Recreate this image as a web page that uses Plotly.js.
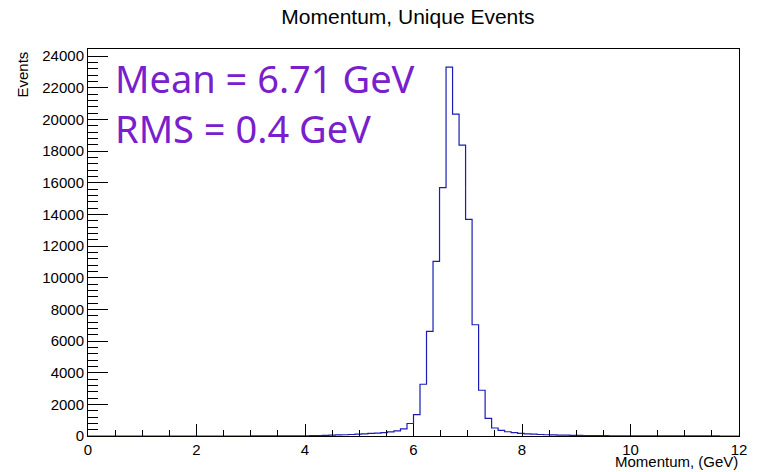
<!DOCTYPE html>
<html>
<head>
<meta charset="utf-8">
<script src="https://cdn.plot.ly/plotly-3.0.1.min.js"></script>
<style>html,body{margin:0;padding:0;background:#fff;}#chart{width:759px;height:472px;}</style>
</head>
<body>
<div id="chart"></div>
<script>
// Histogram definition: 100 bins from 0 to 12 GeV
const xMin = 0;
const xMax = 12;
const nBins = 100;
// Bin contents (events per bin)
const counts = [
  0,0,0,0,0,0,0,0,0,0,
  0,0,0,0,0,0,0,0,0,0,
  0,0,0,0,0,2,3,4,5,6,
  8,10,12,15,20,25,35,50,65,80,
  95,115,140,160,185,215,260,320,450,790,
  1350,3270,6610,11030,15690,23310,20340,18380,13690,7030,
  2890,1110,505,350,270,210,170,140,115,95,
  80,68,58,50,42,36,30,26,22,19,
  16,14,12,10,9,8,7,6,5,5,
  4,4,3,3,2,2,2,1,1,1
];
const titleText = "Momentum, Unique Events";
const xTitle = "Momentum, (GeV)";
const yTitle = "Events";
const statLines = ["Mean = 6.71 GeV", "RMS = 0.4 GeV"];

const binWidth = (xMax - xMin) / nBins;
const edges = [];
for (let i = 0; i <= nBins; i++) edges.push(xMin + i * binWidth);
const ys = counts.concat([counts[counts.length - 1]]);

const font = "Liberation Sans, Arial, Helvetica, sans-serif";

const trace = {
  type: "scatter",
  mode: "lines",
  x: edges,
  y: ys,
  line: {shape: "hv", color: "#1c1cb4", width: 1.2},
  hoverinfo: "skip"
};

const layout = {
  width: 759,
  height: 472,
  margin: {l: 88, r: 19.5, t: 49, b: 35.5},
  paper_bgcolor: "#ffffff",
  plot_bgcolor: "#ffffff",
  showlegend: false,
  font: {family: font, size: 16, color: "#000"},
  title: {
    text: titleText,
    font: {family: font, size: 21, color: "#000"},
    x: 0.5375, xref: "container", xanchor: "center",
    y: 0.964, yref: "container", yanchor: "middle"
  },
  xaxis: {
    range: [xMin, xMax],
    showgrid: false, zeroline: false,
    showline: true, mirror: true, linecolor: "#000", linewidth: 1,
    ticks: "inside", ticklen: 12, tickwidth: 1, tickcolor: "#000",
    tick0: 0, dtick: 2, tickformat: "d",
    minor: {ticks: "inside", ticklen: 6, tickwidth: 1, tickcolor: "#000", dtick: 0.5, showgrid: false},
    tickfont: {family: font, size: 15, color: "#000"}
  },
  yaxis: {
    range: [0, 24450],
    showgrid: false, zeroline: false,
    showline: true, mirror: true, linecolor: "#000", linewidth: 1,
    ticks: "inside", ticklen: 20, tickwidth: 1, tickcolor: "#000",
    tick0: 0, dtick: 2000, tickformat: "d",
    minor: {ticks: "inside", ticklen: 10, tickwidth: 1, tickcolor: "#000", dtick: 400, showgrid: false},
    tickfont: {family: font, size: 15, color: "#000"}
  },
  annotations: [
    {
      text: xTitle, xref: "paper", yref: "paper",
      x: 1, xanchor: "right", y: -0.0916, yanchor: "bottom", borderpad: 0,
      showarrow: false, font: {family: font, size: 15, color: "#000"}
    },
    {
      text: yTitle, xref: "paper", yref: "paper", textangle: -90,
      x: -0.086, xanchor: "right", y: 0.9974, yanchor: "top",
      showarrow: false, font: {family: font, size: 15, color: "#000"}
    },
    {
      text: statLines[0], xref: "paper", yref: "paper",
      x: 0.0384, xanchor: "left", y: 0.924, yanchor: "middle",
      showarrow: false, font: {family: "Noto Sans, sans-serif", size: 38, color: "#7820cc"}
    },
    {
      text: statLines[1], xref: "paper", yref: "paper",
      x: 0.0384, xanchor: "left", y: 0.796, yanchor: "middle",
      showarrow: false, font: {family: "Noto Sans, sans-serif", size: 38, color: "#7820cc"}
    }
  ]
};

Plotly.newPlot("chart", [trace], layout, {staticPlot: true, displayModeBar: false});
</script>
</body>
</html>
